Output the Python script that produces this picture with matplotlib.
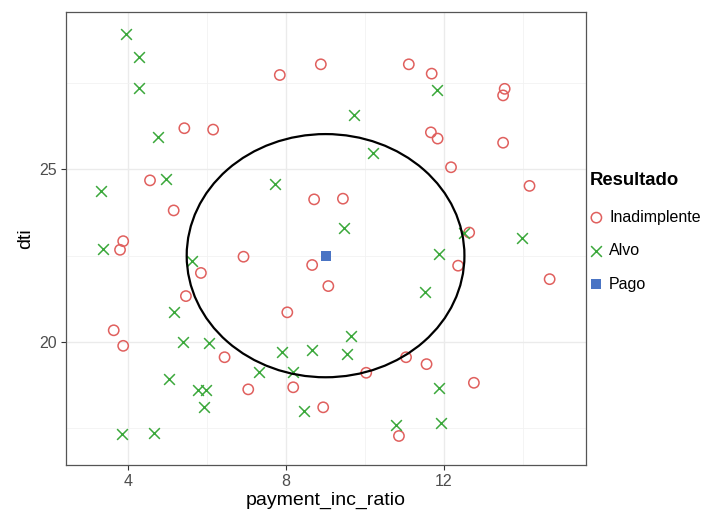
import matplotlib
matplotlib.use("Agg")
import matplotlib.pyplot as plt
from matplotlib.patches import Circle
from matplotlib.ticker import FixedLocator

plt.rcParams['font.family'] = ['Liberation Sans', 'DejaVu Sans']

# Inadimplente (open red circles)
inad_x = [7.84, 8.88, 11.11, 11.69, 13.54, 13.50, 5.42, 6.15, 11.67, 11.84, 13.50, 12.18,
          4.55, 14.17, 8.71, 9.44, 5.15, 12.64, 3.87, 3.79, 6.92, 8.66, 12.36, 5.84,
          14.68, 9.07, 5.46, 8.03, 3.63, 3.87, 6.44, 11.04, 11.56, 10.03, 12.76, 7.04,
          8.18, 8.94, 10.86]
inad_y = [27.73, 28.04, 28.04, 27.77, 27.33, 27.14, 26.19, 26.15, 26.07, 25.89, 25.77, 25.06,
          24.68, 24.52, 24.13, 24.15, 23.81, 23.17, 22.92, 22.67, 22.47, 22.23, 22.21, 22.00,
          21.82, 21.62, 21.33, 20.86, 20.34, 19.89, 19.56, 19.56, 19.36, 19.11, 18.82, 18.63,
          18.69, 18.11, 17.28]

# Alvo (green crosses)
alvo_x = [3.95, 4.26, 4.26, 11.83, 9.73, 4.76, 10.19, 4.96, 3.30, 7.71, 9.46, 12.52,
          13.98, 3.37, 5.62, 11.87, 11.52, 5.15, 9.65, 5.38, 6.05, 7.90, 8.66, 9.54,
          7.32, 8.17, 5.02, 5.77, 5.96, 5.92, 8.45, 11.88, 10.79, 11.93, 3.83, 4.64]
alvo_y = [28.92, 28.26, 27.34, 27.30, 26.57, 25.94, 25.46, 24.72, 24.38, 24.57, 23.29, 23.15,
          23.00, 22.69, 22.35, 22.54, 21.46, 20.87, 20.17, 19.99, 19.97, 19.70, 19.78, 19.65,
          19.13, 19.14, 18.93, 18.61, 18.61, 18.13, 18.01, 18.66, 17.59, 17.66, 17.34, 17.37]

# Pago (blue square, the new loan)
pago_x = [9.0]
pago_y = [22.5]

# neighbourhood circle
circle_center = (9.0, 22.5)
circle_radius = 3.52

red = '#E0605E'
green = '#3BA83B'
blue = '#4A74C4'

fig = plt.figure(figsize=(7.03, 5.14), dpi=100)
ax = fig.add_axes([66.3 / 703, 1 - 465 / 514, (585.7 - 66.3) / 703, (465 - 11.7) / 514])

ax.scatter(inad_x, inad_y, s=55, facecolors='none', edgecolors=red, linewidths=1.1,
           label='Inadimplente', zorder=3)
ax.scatter(alvo_x, alvo_y, s=60, marker='x', color=green, linewidths=1.1,
           label='Alvo', zorder=3)
ax.scatter(pago_x, pago_y, s=42, marker='s', color=blue, linewidths=0,
           label='Pago', zorder=3)

ax.add_patch(Circle(circle_center, circle_radius, fill=False, edgecolor='black',
                    linewidth=1.6, zorder=4))

ax.set_xlim(2.428, 15.594)
ax.set_ylim(16.44, 29.563)

ax.xaxis.set_major_locator(FixedLocator([4, 8, 12]))
ax.xaxis.set_minor_locator(FixedLocator([6, 10, 14]))
ax.yaxis.set_major_locator(FixedLocator([20, 25]))
ax.yaxis.set_minor_locator(FixedLocator([17.5, 22.5, 27.5]))

ax.grid(which='major', color='#EBEBEB', linewidth=1.0)
ax.grid(which='minor', color='#F2F2F2', linewidth=0.6)
ax.set_axisbelow(True)

ax.tick_params(which='major', length=3.5, width=0.8, color='#333333',
               labelsize=11.5, labelcolor='#4D4D4D', pad=3)
ax.tick_params(which='minor', length=0)

for sp in ax.spines.values():
    sp.set_color('#555555')
    sp.set_linewidth(0.9)

ax.set_xlabel('payment_inc_ratio', fontsize=14, labelpad=2)
ax.set_ylabel('dti', fontsize=14, labelpad=4)

leg = ax.legend(title='Resultado', loc='upper left', frameon=False,
                bbox_to_anchor=(590 / 703, 1 - 172 / 514), bbox_transform=fig.transFigure,
                fontsize=11.5, title_fontproperties={'weight': 'bold', 'size': 13.3},
                borderpad=0, borderaxespad=0, handlelength=0.8, handletextpad=0.4,
                labelspacing=1.15, alignment='left')
leg._legend_box.sep = 15

fig.savefig('out.png', dpi=100)
